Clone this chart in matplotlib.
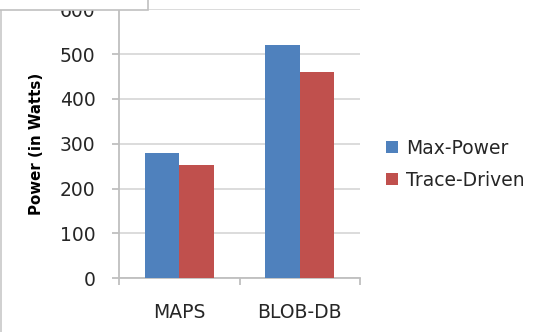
import matplotlib.pyplot as plt
from matplotlib.patches import Rectangle
from matplotlib.lines import Line2D
import numpy as np

# power draw per workload
workloads = ["MAPS", "BLOB-DB"]
max_power = [280, 521]
trace_driven = [252, 461]
series_names = ["Max-Power", "Trace-Driven"]
y_ticks = [0, 100, 200, 300, 400, 500, 600]

blue = "#4F81BD"
red = "#C0504D"
grid_col = "#D9D9D9"
axis_col = "#BFBFBF"
txt_col = "#262626"

plt.rcParams['font.family'] = ['DejaVu Sans']

fig = plt.figure(figsize=(5.4, 3.32), dpi=100)
ax = fig.add_axes([119 / 540, 1 - 278.3 / 332, (360 - 119) / 540, (278.3 - 9.3) / 332])

x = np.arange(len(workloads))
w = 1 / 3.5
ax.bar(x - w / 2, max_power, width=w, color=blue, label=series_names[0], zorder=3)
ax.bar(x + w / 2, trace_driven, width=w, color=red, label=series_names[1], zorder=3)

ax.set_xlim(-0.5, len(workloads) - 0.5)
ax.set_ylim(0, 600)
ax.set_yticks(y_ticks)
ax.set_yticklabels([str(v) for v in y_ticks])
ax.yaxis.grid(True, color=grid_col, linewidth=1.3, zorder=0)
ax.set_axisbelow(True)

# category labels in the middle, tick marks on the category borders
ax.set_xticks(x)
ax.set_xticklabels(workloads)
ax.tick_params(axis='x', length=0, pad=18, labelsize=13.5, colors=txt_col)
ax.set_xticks(np.arange(-0.5, len(workloads)), minor=True)
ax.tick_params(axis='x', which='minor', length=5, width=1.3, color=axis_col, direction='out')
ax.tick_params(axis='y', length=5, width=1.3, color=axis_col, pad=12, labelsize=13.5, labelcolor=txt_col)

for side in ['top', 'right']:
    ax.spines[side].set_visible(False)
for side in ['left', 'bottom']:
    ax.spines[side].set_color(axis_col)
    ax.spines[side].set_linewidth(1.3)

ax.set_ylabel("Power (in Watts)", fontsize=10.8, fontweight='bold', color='black')
ax.yaxis.set_label_coords(-0.31, 0.5)

leg = ax.legend(loc='center left', bbox_to_anchor=(386 / 540, 1 - 164.3 / 332),
                bbox_transform=fig.transFigure, frameon=False, fontsize=13.5,
                handlelength=0.62, handleheight=0.62, handletextpad=0.45,
                labelspacing=0.7, borderpad=0, borderaxespad=0)
for t in leg.get_texts():
    t.set_color(txt_col)

# outer chart frame on the left and the box over the top corner
fig.add_artist(Line2D([1.2 / 540, 1.2 / 540], [0, 1 - 9.5 / 332], transform=fig.transFigure,
                      color="#C8C8C8", linewidth=1.2, zorder=10))
fig.add_artist(Rectangle((-0.01, 1 - 9.5 / 332), 148 / 540 + 0.01, 0.05, transform=fig.transFigure,
                         facecolor='white', edgecolor="#C0C0C0", linewidth=1.2, zorder=10))

fig.savefig("out.png", dpi=100)
